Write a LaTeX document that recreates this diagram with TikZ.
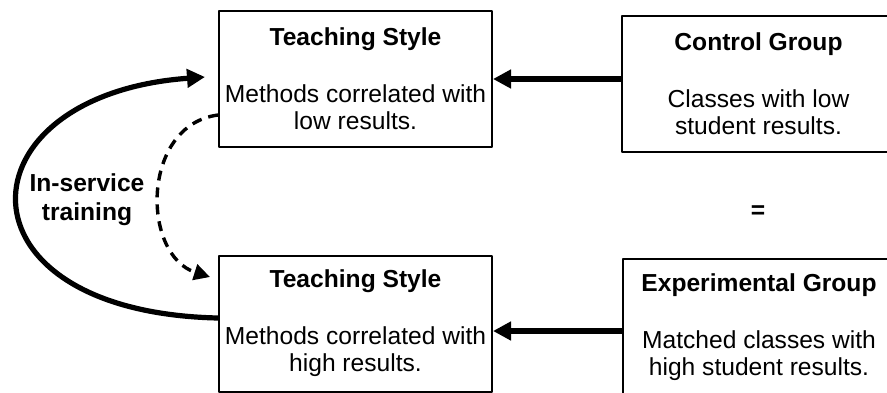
\documentclass[tikz,border=0pt]{standalone}
\usepackage{fontspec}
\setmainfont{Liberation Sans}
\usetikzlibrary{arrows.meta}
\begin{document}
\begin{tikzpicture}[x=0.5pt, y=-0.5pt, font=\fontsize{12.3}{13.5}\selectfont, line join=round,
	box/.style={draw, line width=1pt, minimum width=136.5pt, minimum height=68pt, align=center, inner sep=0pt},
	fatarrow/.style={line width=2.6pt, -{Triangle[length=9pt,width=9pt]}},
	dasharrow/.style={line width=1.7pt, dash pattern=on 5pt off 3.5pt, -{Triangle[length=8pt,width=8pt]}}]
	\useasboundingbox (0,0) rectangle (887,392);
	\foreach \n/\y/\t in {styleA/79/low, styleB/323.5/high} {
		\node[box] (\n) at (355.5,\y) {\textbf{Teaching Style}\\[15pt]Methods correlated with\\\t{} results.};
	}
	\node[box] (control) at (758.5,84) {\textbf{Control Group}\\[15pt]Classes with low\\student results.};
	\node[box] (exper) at (759,327) {\textbf{Experimental Group}\\[15pt]Matched classes with\\high student results.};
	\node (equal) at (758,212) {\textbf{=}};
	\node[align=center, font=\fontsize{12.3}{14.5}\selectfont\bfseries] (train) at (87,200) {In-service\\training};
	\draw[fatarrow] (control.west |- styleA.east) -- (styleA.east);
	\draw[fatarrow] ([yshift=-2pt]exper.west) -- ([yshift=-2pt]exper.west -| styleB.east);
	\coordinate (loopend) at (205,77);
	\draw[fatarrow] ([yshift=2.75pt]styleB.west) .. controls (-52,312) and (-42,95) .. (loopend);
	\coordinate (dashend) at (210,277);
	\draw[dasharrow] ([yshift=-18pt]styleA.west) .. controls (141,125) and (141,255) .. (dashend);
\end{tikzpicture}
\end{document}
